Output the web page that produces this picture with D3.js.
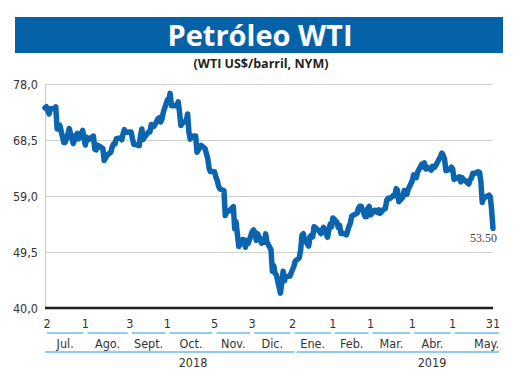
<!DOCTYPE html>
<html>
<head>
<meta charset="utf-8">
<script src="https://cdn.jsdelivr.net/npm/d3@7"></script>
<style>
  html, body { margin: 0; padding: 0; background: #fff; }
  svg { display: block; }
</style>
</head>
<body>
<div id="chart"></div>
<script>
// WTI closing prices, US$/barrel, by month: [day, close]
const jul18 = [[2,73.94],[3,74.14],[5,72.94],[6,73.80],[9,73.85],[10,74.11],[11,70.38],[12,70.33],[13,71.01],[16,68.06],[17,68.08],[18,68.76],[19,69.46],[20,70.46],[23,67.89],[24,68.52],[25,69.30],[26,69.61],[27,68.69],[30,70.13],[31,68.76]]
const aug18 = [[1,67.66],[2,68.96],[3,68.49],[6,69.01],[7,69.17],[8,66.94],[9,66.81],[10,67.63],[13,67.20],[14,67.04],[15,65.01],[16,65.46],[17,65.91],[20,66.43],[21,67.35],[22,67.86],[23,67.83],[24,68.72],[27,68.87],[28,68.53],[29,69.51],[30,70.25],[31,69.80]]
const sep18 = [[4,69.87],[5,68.72],[6,67.77],[7,67.75],[10,67.54],[11,69.25],[12,70.37],[13,68.59],[14,68.99],[17,69.85],[18,69.85],[19,71.12],[20,70.80],[21,70.78],[24,72.08],[25,72.28],[26,71.57],[27,72.12],[28,73.25]]
const oct18 = [[1,75.30],[2,75.23],[3,76.41],[4,74.33],[5,74.34],[8,74.29],[9,74.96],[10,73.17],[11,70.97],[12,71.34],[15,71.78],[16,72.92],[17,69.75],[18,68.65],[19,69.12],[22,69.17],[23,66.43],[24,66.82],[25,67.33],[26,67.59],[29,67.04],[30,66.18],[31,65.31]]
const nov18 = [[1,63.69],[2,63.14],[5,63.10],[6,62.21],[7,61.67],[8,60.67],[9,60.19],[12,59.93],[13,55.69],[14,56.25],[15,56.46],[16,56.46],[19,57.20],[20,53.43],[21,54.63],[23,50.42],[26,51.63],[27,51.56],[28,50.29],[29,51.45],[30,50.93]]
const dec18 = [[3,52.95],[4,53.25],[5,52.89],[6,51.49],[7,52.61],[10,51.00],[11,51.65],[12,51.15],[13,52.58],[14,51.20],[17,49.88],[18,46.24],[19,47.20],[20,45.88],[21,45.59],[24,42.53],[26,46.22],[27,44.61],[28,45.33],[31,45.41]]
const jan19 = [[2,46.54],[3,47.09],[4,47.96],[7,48.52],[8,49.78],[9,52.36],[10,52.59],[11,51.59],[14,50.51],[15,52.11],[16,52.31],[17,52.07],[18,53.80],[22,53.01],[23,52.62],[24,53.13],[25,53.69],[28,51.99],[29,53.31],[30,54.23],[31,53.79]]
const feb19 = [[1,55.26],[4,54.56],[5,53.66],[6,54.01],[7,52.64],[8,52.72],[11,52.41],[12,53.10],[13,53.90],[14,54.41],[15,55.59],[19,56.09],[20,56.92],[21,57.26],[22,57.26],[25,55.48],[26,55.50],[27,56.94],[28,57.22]]
const mar19 = [[1,55.80],[4,56.59],[5,56.56],[6,56.22],[7,56.66],[8,56.07],[11,56.79],[12,56.87],[13,58.26],[14,58.61],[15,58.52],[18,59.09],[19,59.03],[20,60.23],[21,59.98],[22,58.04],[25,58.82],[26,59.94],[27,59.41],[28,59.30],[29,60.14]]
const apr19 = [[1,61.59],[2,62.58],[3,62.46],[4,62.10],[5,63.08],[8,64.40],[9,63.98],[10,64.61],[11,63.58],[12,63.89],[15,63.40],[16,64.05],[17,63.76],[18,64.00],[22,65.70],[23,66.30],[24,65.89],[25,65.21],[26,63.30],[29,63.50],[30,63.91]]
const may19 = [[1,63.60],[2,61.81],[3,61.94],[6,62.25],[7,61.40],[8,62.12],[9,61.70],[10,61.66],[13,61.04],[14,61.78],[15,62.02],[16,62.87],[17,62.76],[20,63.10],[21,62.99],[22,61.42],[23,57.91],[24,58.63],[28,59.14],[29,58.81],[30,56.59],[31,53.50]]

const monthBlocks = [[2018, 6, jul18], [2018, 7, aug18], [2018, 8, sep18], [2018, 9, oct18], [2018, 10, nov18], [2018, 11, dec18],
  [2019, 0, jan19], [2019, 1, feb19], [2019, 2, mar19], [2019, 3, apr19], [2019, 4, may19]]

// Day ticks (first session of each month, plus the last session)
const tickDates = ['2018-07-02', '2018-08-01', '2018-09-03', '2018-10-01', '2018-11-05', '2018-12-03',
  '2019-01-02', '2019-02-01', '2019-03-01', '2019-04-01', '2019-05-01', '2019-05-31']
const tickLabels = ['2', '1', '3', '1', '5', '3', '2', '1', '1', '1', '1', '31']
const monthLabels = ['Jul.', 'Ago.', 'Sept.', 'Oct.', 'Nov.', 'Dic.', 'Ene.', 'Feb.', 'Mar.', 'Abr.', 'May.']
const yearLabels = ['2018', '2019']
const yTicks = [40, 49.5, 59, 68.5, 78]

const parse = d3.timeParse('%Y-%m-%d')
const series = []
monthBlocks.forEach(([yr, m, rows]) => {
  rows.forEach(([d, v]) => series.push({ date: new Date(yr, m, d), value: v }))
})

const width = 520
const height = 390
const plotLeft = 45
const plotRight = 493
const plotTop = 84
const plotBottom = 308

const svg = d3.select('#chart').append('svg')
  .attr('width', width)
  .attr('height', height)

// Title bar
svg.append('rect')
  .attr('x', 15).attr('y', 17)
  .attr('width', 488).attr('height', 36)
  .attr('fill', '#0562a9')

svg.append('text')
  .attr('x', 260).attr('y', 46)
  .attr('text-anchor', 'middle')
  .attr('fill', '#fff')
  .attr('font-family', '"Open Sans", sans-serif')
  .attr('font-weight', 700)
  .attr('font-size', '29px')
  .text('Petróleo WTI')

svg.append('text')
  .attr('x', 261).attr('y', 68)
  .attr('text-anchor', 'middle')
  .attr('fill', '#231f20')
  .attr('font-family', '"Open Sans", sans-serif')
  .attr('font-weight', 700)
  .attr('font-size', '12.5px')
  .text('(WTI US$/barril, NYM)')

const x = d3.scaleTime()
  .domain([series[0].date, series[series.length - 1].date])
  .range([plotLeft, plotRight])

const y = d3.scaleLinear()
  .domain([40, 78])
  .range([plotBottom, plotTop])

const narrow = '"Liberation Sans Narrow", "DejaVu Sans Condensed", sans-serif'

// Gridlines and y labels
const yAxis = d3.axisLeft(y)
  .tickValues(yTicks)
  .tickSize(-(plotRight - plotLeft))
  .tickPadding(7)
  .tickFormat(d => d3.format('.1f')(d).replace('.', ','))

const yg = svg.append('g')
  .attr('transform', `translate(${plotLeft},0)`)
  .call(yAxis)
yg.select('.domain').attr('stroke', '#c8c8c8')
yg.selectAll('.tick line').attr('stroke', '#cfcfcf').attr('stroke-width', 1.2)
yg.selectAll('.tick text')
  .attr('fill', '#333')
  .attr('font-family', narrow)
  .attr('font-size', '12.5px')

// Baseline
svg.append('line')
  .attr('x1', plotLeft).attr('x2', plotRight)
  .attr('y1', y(40)).attr('y2', y(40))
  .attr('stroke', '#231f20')
  .attr('stroke-width', 2.5)

// Price line
const line = d3.line()
  .x(d => x(d.date))
  .y(d => y(d.value))

svg.append('path')
  .datum(series)
  .attr('fill', 'none')
  .attr('stroke', '#0b64ae')
  .attr('stroke-width', 5.5)
  .attr('stroke-linejoin', 'round')
  .attr('stroke-linecap', 'round')
  .attr('d', line)

// Last value label
const last = series[series.length - 1]
svg.append('text')
  .attr('x', x(last.date) + 4).attr('y', y(last.value) + 14)
  .attr('text-anchor', 'end')
  .attr('fill', '#444')
  .attr('font-family', '"Liberation Serif", serif')
  .attr('font-size', '12px')
  .text(last.value.toFixed(2))

// Day ticks
const tDates = tickDates.map(parse)
svg.append('g').selectAll('text')
  .data(tDates)
  .join('text')
  .attr('x', (d, i) => x(d) + (i === 0 ? 2 : 0))
  .attr('y', 328)
  .attr('text-anchor', 'middle')
  .attr('fill', '#333')
  .attr('font-family', narrow)
  .attr('font-size', '12.5px')
  .text((d, i) => tickLabels[i])

// Month segments and labels
const segs = monthLabels.map((m, i) => {
  const x0 = x(tDates[i]) + 2
  const x1 = i === monthLabels.length - 1 ? x(tDates[i + 1]) + 6 : x(tDates[i + 1]) - 2
  return { label: m, x0, x1, last: i === monthLabels.length - 1 }
})

const mg = svg.append('g')
mg.selectAll('line')
  .data(segs)
  .join('line')
  .attr('x1', d => d.x0).attr('x2', d => d.x1)
  .attr('y1', 333).attr('y2', 333)
  .attr('stroke', '#6cbbe8')
  .attr('stroke-width', 1.5)
mg.selectAll('text')
  .data(segs)
  .join('text')
  .attr('x', d => d.last ? d.x1 : (d.x0 + d.x1) / 2)
  .attr('y', 348)
  .attr('text-anchor', d => d.last ? 'end' : 'middle')
  .attr('fill', '#333')
  .attr('font-family', narrow)
  .attr('font-size', '12.5px')
  .text(d => d.label)

// Year segments
const yearSegs = [
  { label: yearLabels[0], x0: plotLeft, x1: x(parse('2019-01-02')) + 2 },
  { label: yearLabels[1], x0: x(parse('2019-01-02')) + 4, x1: plotRight + 6 }
]
const yrg = svg.append('g')
yrg.selectAll('line')
  .data(yearSegs)
  .join('line')
  .attr('x1', d => d.x0).attr('x2', d => d.x1)
  .attr('y1', 352).attr('y2', 352)
  .attr('stroke', '#6cbbe8')
  .attr('stroke-width', 1.5)
yrg.selectAll('text')
  .data(yearSegs)
  .join('text')
  .attr('x', (d, i) => i === 0 ? 193 : 432)
  .attr('y', 367)
  .attr('text-anchor', 'middle')
  .attr('fill', '#333')
  .attr('font-family', narrow)
  .attr('font-size', '12.5px')
  .text(d => d.label)
</script>
</body>
</html>
